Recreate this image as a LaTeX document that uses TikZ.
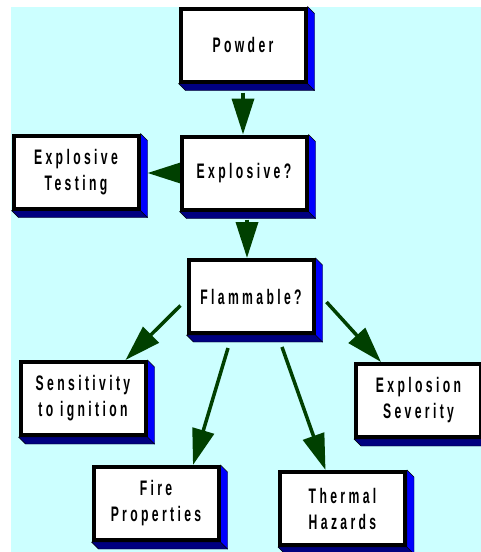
\documentclass[tikz,border=0pt]{standalone}
\usepackage{fontspec}
\usepackage{tikz}
\usetikzlibrary{arrows.meta,calc}
\newfontfamily\boxfont{Liberation Sans}[FakeStretch=0.58,LetterSpace=16]
\definecolor{SkyCyan}{RGB}{204,255,255}
\definecolor{SideNavy}{RGB}{0,0,128}
\definecolor{SideBlue}{RGB}{0,0,255}
\definecolor{LeafGreen}{RGB}{0,64,0}
\pgfdeclarelayer{back}
\pgfsetlayers{back,main}

\begin{document}
\begin{tikzpicture}[x=1pt,y=-1pt,
  box/.style={draw=black,line width=4pt,fill=white,minimum width=125pt,minimum height=73pt,
    align=center,font=\boxfont\bfseries\fontsize{21}{26}\selectfont},
  arr/.style={draw=LeafGreen,line width=3.5pt,-{Triangle[length=36pt,width=22pt]}}]
\useasboundingbox (0,0) rectangle (481,552);
\node[box] (powder) at (243,45){Powder};
\node[box] (expl) at (244,173){Explosive?};
\node[box] (test) at (76,172){Explosive\\Testing};
\node[box] (flam) at (251,296.5){Flammable?};
\node[box] (sens) at (83,398.5){Sensitivity\\to ignition};
\node[box] (fire) at (156,503.5){Fire\\Properties};
\node[box] (therm) at (342.5,508.5){Thermal\\Hazards};
\node[box] (sev) at (418.5,400.5){Explosion\\Severity};
\begin{pgfonlayer}{back}
\fill[SkyCyan] (11,7) rectangle (481,552);
\draw[arr,shorten <=9pt] (powder.south) -- (powder.south |- expl.north);
\draw[arr,shorten >=7pt] (expl.west) -- (expl.west -| test.east);
\draw[arr,shorten <=8pt] ([xshift=3pt]expl.south) -- ([xshift=3pt]expl.south |- flam.north);
\draw[arr] ([shift={(-6,9)}]flam.west) -- ([xshift=-22pt]sens.north east);
\draw[arr] ([shift={(-23,13)}]flam.south) -- ([xshift=37pt]fire.north);
\draw[arr] ([shift={(31,12)}]flam.south) -- ([xshift=-17pt]therm.north);
\draw[arr] ([shift={(11,5.5)}]flam.east) -- ([xshift=27pt]sev.north west);
\foreach \n in {powder,expl,test,flam,sens,fire,therm,sev}{
  \filldraw[SideNavy,draw=black,thin] (\n.south west) -- ++(7,7) -- ([shift={(7,7)}]\n.south east) -- (\n.south east) -- cycle;
  \filldraw[SideBlue,draw=black,thin] (\n.north east) -- ++(7,7) -- ([shift={(7,7)}]\n.south east) -- (\n.south east) -- cycle;
}
\end{pgfonlayer}
\end{tikzpicture}
\end{document}
